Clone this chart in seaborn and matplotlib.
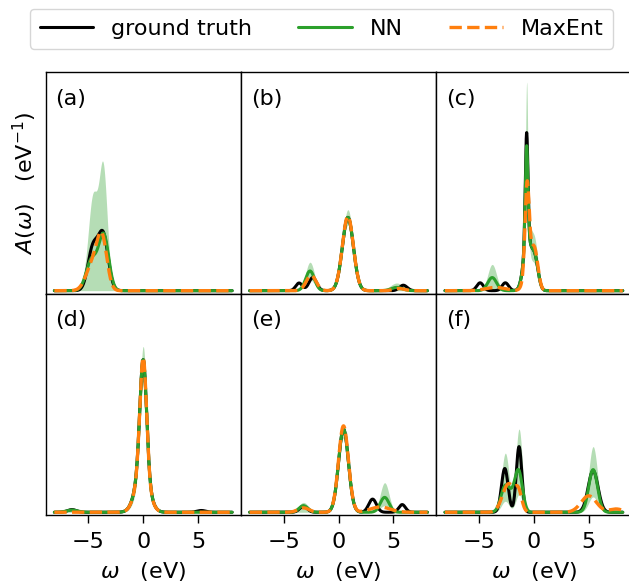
import numpy as np
import pandas as pd
import matplotlib
matplotlib.use("Agg")
import matplotlib.pyplot as plt
import seaborn as sns

# ---------------- data (peak parameters) ----------------
# each entry: list of (centre eV, height, width eV) per panel (a)..(f)
panel_labels = ["(a)", "(b)", "(c)", "(d)", "(e)", "(f)"]
omega_range = (-8.1, 8.1)
xticks = [-5, 0, 5]

gt_peaks = [
    [(-4.6, 0.19, 0.45), (-3.65, 0.25, 0.45)],
    [(-3.6, 0.035, 0.3), (-2.35, 0.06, 0.35), (0.85, 0.335, 0.5), (5.9, 0.025, 0.35)],
    [(-4.9, 0.036, 0.3), (-2.6, 0.036, 0.3), (-0.66, 0.50, 0.12), (-0.6, 0.22, 0.35), (0.1, 0.14, 0.3)],
    [(-6.5, 0.012, 0.4), (0.0, 0.51, 0.3), (-0.1, 0.19, 0.6), (5.3, 0.008, 0.4)],
    [(-3.2, 0.027, 0.35), (0.45, 0.38, 0.45), (3.1, 0.06, 0.35), (5.8, 0.035, 0.3)],
    [(-2.65, 0.20, 0.3), (-1.35, 0.30, 0.25), (5.4, 0.19, 0.45)],
]
nn_peaks = [
    [(-4.7, 0.14, 0.5), (-3.6, 0.25, 0.45)],
    [(-2.6, 0.09, 0.4), (0.85, 0.335, 0.5), (5.3, 0.015, 0.5)],
    [(-3.8, 0.06, 0.4), (-0.66, 0.44, 0.12), (-0.6, 0.22, 0.35), (0.1, 0.14, 0.3)],
    [(-6.5, 0.010, 0.5), (0.0, 0.51, 0.3), (-0.1, 0.19, 0.6)],
    [(-3.2, 0.03, 0.4), (0.45, 0.38, 0.45), (4.2, 0.068, 0.4)],
    [(-2.6, 0.12, 0.4), (-2.0, 0.03, 0.3), (-1.4, 0.19, 0.35), (5.4, 0.195, 0.4)],
]
me_peaks = [
    [(-4.6, 0.12, 0.6), (-3.75, 0.22, 0.45)],
    [(-2.5, 0.07, 0.45), (0.85, 0.34, 0.5), (5.5, 0.01, 0.5)],
    [(-3.5, 0.015, 0.9), (-0.62, 0.35, 0.18), (-0.5, 0.15, 0.35), (0.1, 0.16, 0.3)],
    [(0.0, 0.53, 0.3), (-0.1, 0.18, 0.6)],
    [(-3.2, 0.02, 0.5), (0.45, 0.395, 0.45), (3.8, 0.024, 0.9)],
    [(-2.3, 0.13, 0.55), (-1.4, 0.08, 0.3), (5.0, 0.075, 0.7), (7.5, 0.015, 0.6)],
]
band_hi_peaks = [
    [(-4.6, 0.30, 0.4), (-3.65, 0.45, 0.35), (-4.2, 0.15, 0.8)],
    [(-2.6, 0.13, 0.4), (0.85, 0.37, 0.5), (5.3, 0.035, 0.6)],
    [(-3.8, 0.12, 0.4), (-0.66, 0.65, 0.1), (-0.6, 0.30, 0.35), (0.1, 0.20, 0.3)],
    [(-6.5, 0.02, 0.6), (0.0, 0.56, 0.3), (-0.1, 0.20, 0.65)],
    [(-3.2, 0.045, 0.45), (0.45, 0.40, 0.47), (4.2, 0.135, 0.4)],
    [(-2.6, 0.27, 0.35), (-1.35, 0.38, 0.3), (5.4, 0.30, 0.4)],
]
band_lo_peaks = [
    [],
    [(-2.6, 0.05, 0.4), (0.85, 0.30, 0.5)],
    [(-0.66, 0.30, 0.15), (-0.6, 0.15, 0.35), (0.1, 0.10, 0.3)],
    [(0.0, 0.45, 0.28), (-0.1, 0.15, 0.55)],
    [(0.45, 0.34, 0.45), (4.2, 0.03, 0.4)],
    [(-2.6, 0.05, 0.35), (-1.35, 0.08, 0.3), (5.4, 0.07, 0.4)],
]

# ---------------- build curves ----------------
omega = np.linspace(omega_range[0], omega_range[1], 1200)


def spectrum(peaks):
    y = np.zeros_like(omega)
    for c, h, w in peaks:
        y += h * np.exp(-0.5 * ((omega - c) / w) ** 2)
    return y


# ---------------- figure ----------------
sns.set_style("ticks")
plt.rcParams["font.family"] = ["DejaVu Sans"]
plt.rcParams["font.size"] = 16
plt.rcParams["mathtext.fontset"] = "dejavusans"
plt.rcParams["text.color"] = "black"
plt.rcParams["axes.labelcolor"] = "black"
plt.rcParams["xtick.color"] = "black"
plt.rcParams["ytick.color"] = "black"

fig, axes = plt.subplots(2, 3, figsize=(6.29, 5.85), dpi=100, sharex=True, sharey=True)
fig.subplots_adjust(left=0.0725, right=1.004, top=0.877, bottom=0.1195, wspace=0, hspace=0)

green = "#2ca02c"
orange = "#ff7f0e"

for i, ax in enumerate(axes.flat):
    gt = spectrum(gt_peaks[i])
    nn = spectrum(nn_peaks[i])
    me = spectrum(me_peaks[i])
    hi = np.maximum(spectrum(band_hi_peaks[i]), nn)
    lo = np.minimum(spectrum(band_lo_peaks[i]), nn)
    ax.fill_between(omega, lo, hi, color=green, alpha=0.35, lw=0)
    df = pd.DataFrame({"omega": omega, "gt": gt, "nn": nn, "me": me})
    sns.lineplot(data=df, x="omega", y="gt", ax=ax, color="black", lw=2.2,
                 label="ground truth" if i == 0 else None, legend=False)
    sns.lineplot(data=df, x="omega", y="nn", ax=ax, color=green, lw=2.2,
                 label="NN" if i == 0 else None, legend=False)
    sns.lineplot(data=df, x="omega", y="me", ax=ax, color=orange, lw=2.4, ls="--",
                 label="MaxEnt" if i == 0 else None, legend=False)
    ax.text(0.05, 0.88, panel_labels[i], transform=ax.transAxes, ha="left", va="center", fontsize=16)
    ax.set_xlim(-8.9, 8.9)
    ax.set_ylim(-0.013, 1.0)
    ax.set_yticks([])
    ax.set_xticks(xticks)
    ax.set_xlabel("")
    ax.set_ylabel("")
    for s in ax.spines.values():
        s.set_visible(True)
        s.set_color("black")
        s.set_linewidth(1.0)
    ax.tick_params(axis="x", direction="out", length=6, width=1, pad=6, labelsize=16, colors="black")

for ax in axes[0]:
    ax.tick_params(axis="x", bottom=False, labelbottom=False)
for ax in axes[1]:
    ax.set_xlabel(r"$\omega$   (eV)", fontsize=16, labelpad=6)
for ax in axes[:, 0]:
    ax.set_ylabel(r"$A(\omega)$   (eV$^{-1}$)", fontsize=16, labelpad=5)

handles, labels = axes[0, 0].get_legend_handles_labels()
fig.legend(handles, labels, loc="center", bbox_to_anchor=(0.511, 0.951), ncol=3,
           fontsize=16, handlelength=2.4, handletextpad=0.8, columnspacing=2.1,
           frameon=True, borderpad=0.45)

fig.savefig("out.png", dpi=100)
